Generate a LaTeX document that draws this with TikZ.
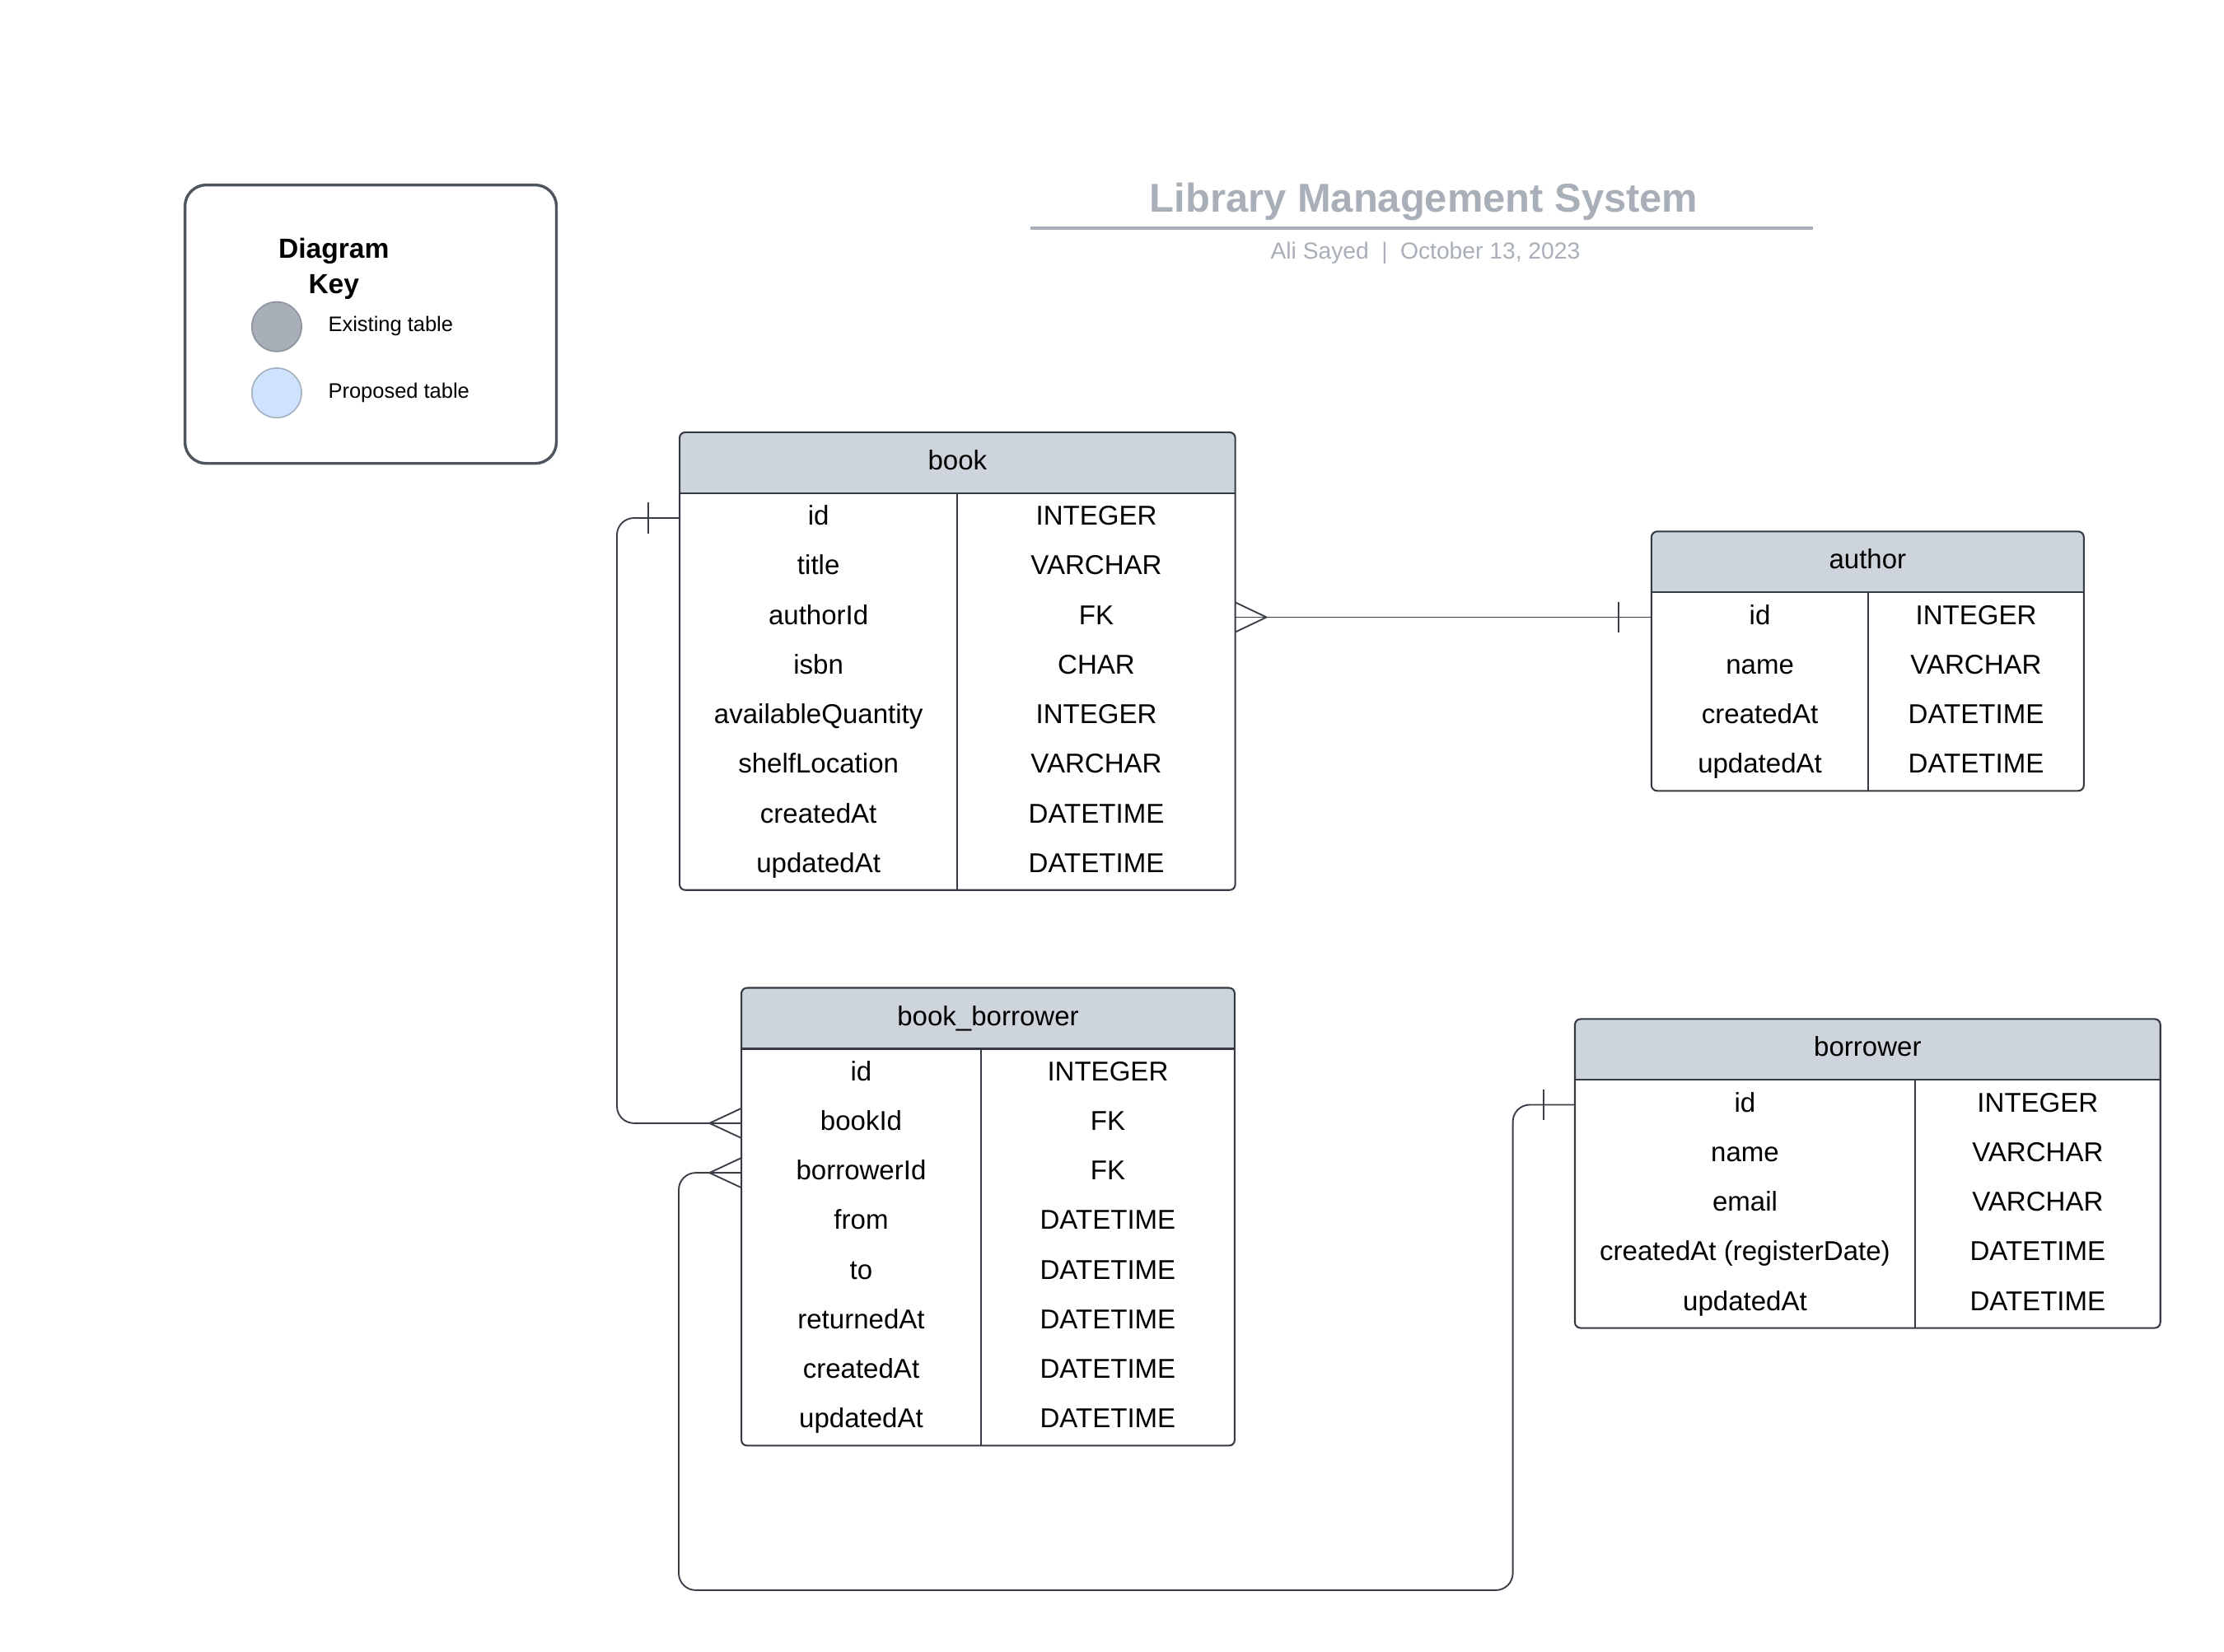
\documentclass[tikz,border=0pt]{standalone}
\usepackage{fontspec}
\setmainfont{Liberation Sans}
\usetikzlibrary{calc}
\definecolor{tblline}{HTML}{353A42}
\definecolor{hdrfill}{HTML}{CED4DC}
\definecolor{titlegray}{HTML}{A9AFB8}
\definecolor{keyline}{HTML}{4F555E}
\definecolor{connc}{HTML}{3A3F47}
\definecolor{existfill}{HTML}{A9AFB8}
\definecolor{existline}{HTML}{8E949C}
\definecolor{propfill}{HTML}{CFE3FF}
\definecolor{propline}{HTML}{A8B3C1}
\newcommand\cellfont{\fontsize{19.2}{22}\selectfont}
\tikzset{
  hdr/.style={minimum height=43, inner sep=0pt, outer sep=0pt, font=\cellfont, text height=14pt, text depth=4pt},
  cell/.style={minimum height=35, inner sep=0pt, outer sep=0pt, font=\cellfont, text height=14pt, text depth=4pt},
  tbl/.style={draw=tblline, line width=1.2pt, rounded corners=4pt, inner sep=0pt, outer sep=0pt},
  divline/.style={draw=tblline, line width=1.2pt},
  conn/.style={draw=connc, line width=1.1pt},
  keybox/.style={draw=keyline, line width=2pt, rounded corners=15pt, inner sep=0pt, outer sep=0pt},
  dot/.style={circle, minimum size=35pt, inner sep=0pt, line width=1pt},
}
\newcommand\ertable[8]{%
  \coordinate (#1-nw) at (#2,#3);
  \fill[hdrfill,rounded corners=4pt] (#1-nw) rectangle ($(#1-nw)+(#4+#5,43)$);
  \fill[hdrfill] ($(#1-nw)+(0,20)$) rectangle ($(#1-nw)+(#4+#5,43)$);
  \node[hdr,minimum width=#4+#5,anchor=north west] (#1-h) at (#1-nw) {#7};
  \foreach \cn/\ct [count=\ci] in {#8}{%
    \node[cell,minimum width=#4,anchor=north west] (#1-n\ci) at ($(#1-nw)+(0,43+35*\ci-35)$) {\cn};
    \node[cell,minimum width=#5,anchor=north west] (#1-t\ci) at ($(#1-nw)+(#4,43+35*\ci-35)$) {\ct};
  }
  \node[tbl,minimum width=#4+#5,minimum height=43+35*#6,anchor=north west] (#1) at (#1-nw) {};
  \draw[divline] ($(#1-nw)+(0,43)$) -- ++(#4+#5,0);
  \draw[divline] ($(#1-nw)+(#4,43)$) -- ++(0,35*#6);
}
\begin{document}
\begin{tikzpicture}[x=1pt,y=-1pt]
\useasboundingbox (0,0) rectangle (1568.9,1165.6);

% ---------- legend ----------
\node[keybox,minimum width=262,minimum height=196.5,anchor=north west] (key) at (130.5,130.5) {};
\node[font=\fontsize{19.5}{25}\selectfont\bfseries,align=center,anchor=base] (keytitle) at (235.5,207) {Diagram\\Key};
\node[dot,fill=existfill,draw=existline] (existdot) at (195.2,230.5) {};
\node[dot,fill=propfill,draw=propline] (propdot) at (195.2,277.2) {};
\node[font=\fontsize{14.8}{17}\selectfont,anchor=base west,inner sep=0pt] (existtxt) at (231.4,233.6) {Existing table};
\node[font=\fontsize{14.8}{17}\selectfont,anchor=base west,inner sep=0pt] (proptxt) at (231.4,280.9) {Proposed table};

% ---------- title ----------
\node[font=\fontsize{28.4}{32}\selectfont\bfseries,text=titlegray,anchor=base,inner sep=0pt] (title) at (1004.5,149.5) {Library Management System};
\draw[titlegray,line width=2.3pt] (727,161) -- (1279,161);
\node[font=\fontsize{16.4}{19}\selectfont,text=titlegray,anchor=base,inner sep=0pt] (subtitle) at (1005.5,183) {Ali Sayed\hspace{9pt}|\hspace{9pt}October 13, 2023};

% ---------- tables ----------
\ertable{book}{479.4}{305}{196}{196}{8}{book}{id/INTEGER,title/VARCHAR,authorId/FK,isbn/CHAR,availableQuantity/INTEGER,shelfLocation/VARCHAR,createdAt/DATETIME,updatedAt/DATETIME}
\ertable{author}{1165}{375}{153}{152}{4}{author}{id/INTEGER,name/VARCHAR,createdAt/DATETIME,updatedAt/DATETIME}
\ertable{bb}{523}{697}{169}{179}{8}{book\_borrower}{id/INTEGER,bookId/FK,borrowerId/FK,from/DATETIME,to/DATETIME,returnedAt/DATETIME,createdAt/DATETIME,updatedAt/DATETIME}
\ertable{borrower}{1111}{719}{240}{173}{5}{borrower}{id/INTEGER,name/VARCHAR,email/VARCHAR,createdAt (registerDate)/DATETIME,updatedAt/DATETIME}

% ---------- connectors ----------
\coordinate (v1) at (435.2,0);
\coordinate (v2) at (1067.2,0);
\coordinate (v3) at (478.8,0);
\coordinate (hb) at (0,1122);

% book.id -- book_borrower.bookId
\draw[conn,rounded corners=12pt] (book-n1.west) -- (book-n1.west -| v1) -- (bb-n2.west -| v1) -- (bb-n2.west);
\draw[conn] ($(book-n1.west)+(-22,-11)$) -- ($(book-n1.west)+(-22,11)$);
\draw[conn] ($(bb-n2.west)+(0,-10.5)$) -- ($(bb-n2.west)+(-22.5,0)$) -- ($(bb-n2.west)+(0,10.5)$);

% book.authorId -- author.id
\draw[conn] (book-t3.east) -- (author-n1.west);
\draw[conn] ($(book-t3.east)+(0,-10.5)$) -- ($(book-t3.east)+(22,0)$) -- ($(book-t3.east)+(0,10.5)$);
\draw[conn] ($(author-n1.west)+(-23,-11)$) -- ($(author-n1.west)+(-23,11)$);

% borrower.id -- book_borrower.borrowerId
\draw[conn,rounded corners=12pt] (borrower-n1.west) -- (borrower-n1.west -| v2) -- (v2 |- hb) -- (v3 |- hb) -- (bb-n3.west -| v3) -- (bb-n3.west);
\draw[conn] ($(borrower-n1.west)+(-22,-11)$) -- ($(borrower-n1.west)+(-22,11)$);
\draw[conn] ($(bb-n3.west)+(0,-10.5)$) -- ($(bb-n3.west)+(-22.5,0)$) -- ($(bb-n3.west)+(0,10.5)$);
\end{tikzpicture}
\end{document}
